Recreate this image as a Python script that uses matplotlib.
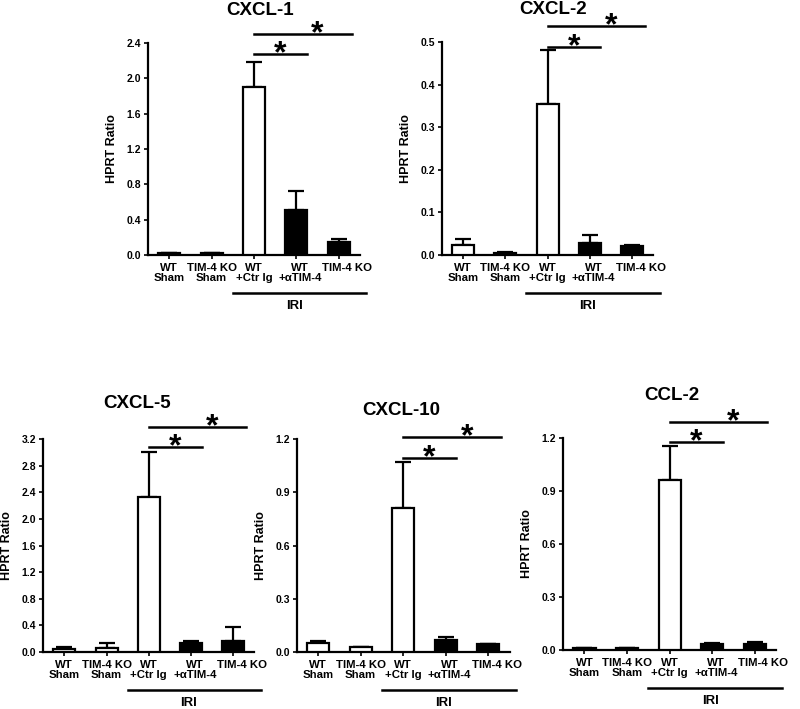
import matplotlib
matplotlib.use("Agg")
import matplotlib.pyplot as plt
import numpy as np

plt.rcParams["font.family"] = ["Liberation Sans", "DejaVu Sans"]
plt.rcParams["font.weight"] = "bold"

CATEGORIES = ["WT\nSham", "TIM-4 KO\nSham", "WT\n+Ctr Ig", "WT\n+αTIM-4", "TIM-4 KO"]
FILLED = [False, False, False, True, True]

TITLES = ["CXCL-1", "CXCL-2", "CXCL-5", "CXCL-10", "CCL-2"]

cxcl1_mean = [0.026, 0.020, 1.90, 0.51, 0.144]
cxcl1_err = [0.0, 0.0, 0.29, 0.21, 0.034]
cxcl2_mean = [0.0235, 0.0055, 0.355, 0.029, 0.022]
cxcl2_err = [0.0135, 0.0025, 0.127, 0.018, 0.0015]
cxcl5_mean = [0.045, 0.065, 2.33, 0.14, 0.165]
cxcl5_err = [0.030, 0.070, 0.68, 0.020, 0.211]
cxcl10_mean = [0.053, 0.028, 0.81, 0.070, 0.043]
cxcl10_err = [0.007, 0.002, 0.264, 0.015, 0.002]
ccl2_mean = [0.013, 0.011, 0.96, 0.032, 0.034]
ccl2_err = [0.0, 0.0, 0.193, 0.006, 0.011]

MEANS = [cxcl1_mean, cxcl2_mean, cxcl5_mean, cxcl10_mean, ccl2_mean]
ERRS = [cxcl1_err, cxcl2_err, cxcl5_err, cxcl10_err, ccl2_err]

YMAX = [2.4, 0.5, 3.2, 1.2, 1.2]
YSTEP = [0.4, 0.1, 0.4, 0.3, 0.3]

# layout: axes rects (fig fraction), significance bar heights (axes fraction),
# title position (axes fraction), tick label nudges (bar units)
RECTS = [
    [0.185, 0.6403, 0.265, 0.299],
    [0.5525, 0.6403, 0.264, 0.300],
    [0.054, 0.0804, 0.264, 0.300],
    [0.371, 0.0804, 0.266, 0.300],
    [0.704, 0.0832, 0.266, 0.299],
]
SIG_Y = [(0.948, 1.042), (0.977, 1.075), (0.962, 1.056), (0.911, 1.009), (0.981, 1.075)]
TITLE_POS = [(0.53, 1.155), (0.526, 1.155), (0.445, 1.17), (0.49, 1.137), (0.51, 1.20)]
LABEL_NUDGE = [0, 0, 0, 0.09, 0.2]

fig = plt.figure(figsize=(8.0, 7.09), dpi=100)

for i in range(5):
    ax = fig.add_axes(RECTS[i])
    x = np.arange(len(CATEGORIES))
    colors = ["black" if f else "white" for f in FILLED]
    ax.bar(x, MEANS[i], width=0.52, color=colors, edgecolor="black",
           linewidth=1.6, zorder=3)
    ax.errorbar(x, MEANS[i], yerr=[np.zeros(5), ERRS[i]], fmt="none",
                ecolor="black", elinewidth=1.6, capsize=5.5, capthick=1.6,
                zorder=2)

    ax.set_xlim(-0.5, 4.5)
    ax.set_ylim(0, YMAX[i])
    ticks = np.arange(0, YMAX[i] + YSTEP[i] / 2, YSTEP[i])
    ax.set_yticks(ticks)
    ax.set_yticklabels([f"{t:.1f}" for t in ticks], fontsize=7.5, fontweight="bold")
    ax.set_xticks(x)
    ax.set_xticklabels([])
    for xi, lab, dx in zip(x, CATEGORIES, LABEL_NUDGE):
        ax.annotate(lab, xy=(xi + dx, 0), xycoords=("data", "axes fraction"),
                    xytext=(0, -5.5), textcoords="offset points",
                    ha="center", va="top", fontsize=8.2, fontweight="bold",
                    linespacing=1.1, annotation_clip=False)
    ax.tick_params(axis="both", direction="out", length=3, width=1.2, pad=2)
    for s in ["top", "right"]:
        ax.spines[s].set_visible(False)
    for s in ["left", "bottom"]:
        ax.spines[s].set_linewidth(1.6)

    ax.set_ylabel("HPRT Ratio", fontsize=9, fontweight="bold", labelpad=6)
    ax.text(TITLE_POS[i][0], TITLE_POS[i][1], TITLES[i], transform=ax.transAxes,
            ha="center", va="center", fontsize=13.5, fontweight="bold")

    # significance bars
    trans = ax.get_xaxis_transform()
    lo, hi = SIG_Y[i]
    ax.plot([2, 3.25], [lo, lo], color="black", lw=1.8, transform=trans,
            clip_on=False)
    ax.plot([2, 4.3], [hi, hi], color="black", lw=1.8, transform=trans,
            clip_on=False)
    ax.text(2.62, lo, "*", transform=trans, ha="center", va="center",
            fontsize=23, fontweight="bold")
    ax.text(3.5, hi, "*", transform=trans, ha="center", va="center",
            fontsize=23, fontweight="bold")

    # IRI group bar below axis
    h = RECTS[i][3] * 709
    yl = -38 / h
    ax.plot([1.5, 4.65], [yl, yl], color="black", lw=1.8, transform=trans,
            clip_on=False)
    ax.text(2.95, yl - 13 / h, "IRI", transform=trans, ha="center",
            va="center", fontsize=9.5, fontweight="bold")

fig.savefig("out.png", dpi=100)
